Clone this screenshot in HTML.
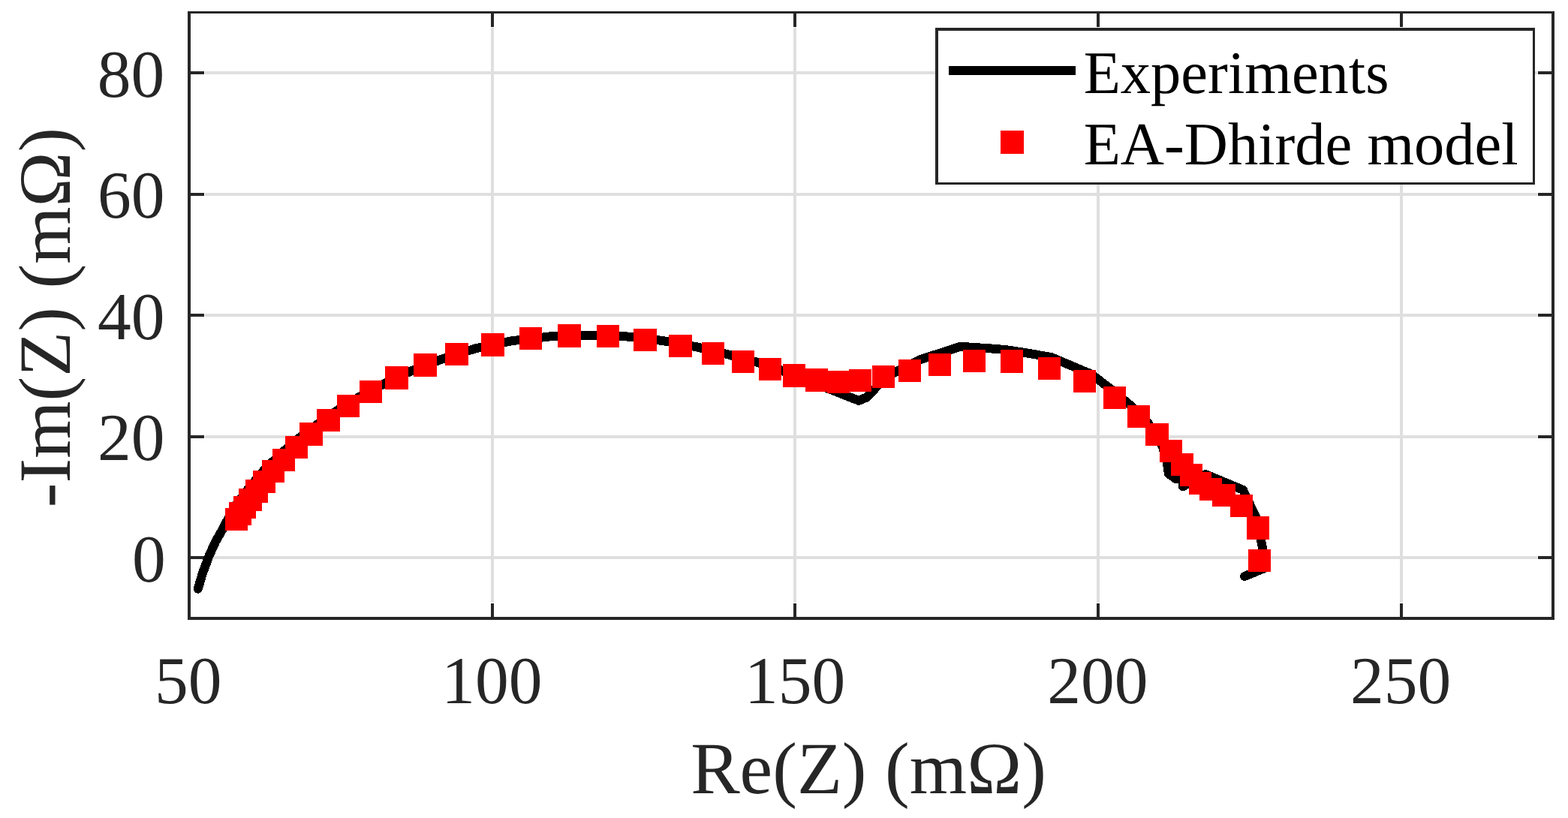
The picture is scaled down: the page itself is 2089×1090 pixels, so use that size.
<!DOCTYPE html>
<html lang="en"><head><meta charset="utf-8"><title>Nyquist plot: Experiments vs EA-Dhirde model</title>
<style>
html,body{margin:0;padding:0;background:#fff;}
body{width:2089px;height:1090px;}
svg{display:block;}
text{font-family:"Liberation Serif",serif;text-rendering:geometricPrecision;}
.tl{font-size:89.5px;fill:#262626;}
.al{font-size:98.2px;fill:#262626;}
.lg{font-size:80.5px;fill:#000;}
</style></head><body>
<svg width="2089" height="1090" viewBox="0 0 2089 1090">
<rect x="0" y="0" width="2089" height="1090" fill="#fff"/>
<g fill="#dfdfdf" shape-rendering="crispEdges">
<rect x="654" y="37" width="4" height="766"/>
<rect x="1057" y="37" width="4" height="766"/>
<rect x="1461" y="37" width="4" height="766"/>
<rect x="1865" y="37" width="4" height="766"/>
<rect x="273" y="741" width="1775" height="4"/>
<rect x="273" y="580" width="1775" height="4"/>
<rect x="273" y="418" width="1775" height="4"/>
<rect x="273" y="257" width="1775" height="4"/>
<rect x="273" y="95" width="1775" height="4"/>
</g>
<g fill="#262626" shape-rendering="crispEdges">
<rect x="250" y="15" width="1821" height="3"/>
<rect x="250" y="822" width="1821" height="4"/>
<rect x="250" y="15" width="4" height="811"/>
<rect x="2067" y="15" width="4" height="811"/>
<rect x="654" y="804" width="4" height="20"/>
<rect x="654" y="16" width="4" height="20"/>
<rect x="1057" y="804" width="4" height="20"/>
<rect x="1057" y="16" width="4" height="20"/>
<rect x="1461" y="804" width="4" height="20"/>
<rect x="1461" y="16" width="4" height="20"/>
<rect x="1865" y="804" width="4" height="20"/>
<rect x="1865" y="16" width="4" height="20"/>
<rect x="252" y="741" width="20" height="4"/>
<rect x="2049" y="741" width="20" height="4"/>
<rect x="252" y="580" width="20" height="4"/>
<rect x="2049" y="580" width="20" height="4"/>
<rect x="252" y="418" width="20" height="4"/>
<rect x="2049" y="418" width="20" height="4"/>
<rect x="252" y="257" width="20" height="4"/>
<rect x="2049" y="257" width="20" height="4"/>
<rect x="252" y="95" width="20" height="4"/>
<rect x="2049" y="95" width="20" height="4"/>
</g>
<polyline points="263.8,784.6 269.5,765.0 278.0,742.0 287.0,722.0 295.6,707.0 304.8,689.6 315.3,671.6 321.8,663.1 329.8,652.6 339.8,640.6 350.8,627.6 364.1,614.4 380.6,598.9 400.2,582.3 423.2,565.2 449.5,546.9 478.2,529.1 511.0,511.7 547.5,494.4 587.5,479.0 632.5,464.6 682.0,454.2 732.5,448.4 784.5,447.0 834.5,448.4 883.0,454.0 928.5,462.4 970.0,472.4 1008.0,482.4 1042.0,494.0 1098.0,515.7 1144.2,533.9 1154.3,529.5 1181.0,502.2 1225.0,479.5 1279.5,461.8 1320.0,464.4 1340.0,466.1 1367.0,470.2 1401.0,476.2 1453.7,498.5 1480.4,518.8 1504.2,538.6 1529.8,564.2 1548.7,594.5 1554.7,616.0 1556.8,631.0 1566.1,637.9 1576.0,638.5 1575.8,648.3 1606.0,632.0 1656.0,652.8 1673.8,690.4 1682.5,732.0 1686.0,756.5 1658.0,768.0" fill="none" stroke="#000" stroke-width="12" stroke-linejoin="round" stroke-linecap="round" shape-rendering="crispEdges"/>
<g fill="#ff0000" shape-rendering="crispEdges">
<rect x="300" y="677" width="30" height="30"/>
<rect x="305" y="669" width="30" height="31"/>
<rect x="311" y="661" width="30" height="30"/>
<rect x="318" y="651" width="31" height="30"/>
<rect x="327" y="639" width="30" height="31"/>
<rect x="337" y="627" width="30" height="30"/>
<rect x="349" y="613" width="30" height="30"/>
<rect x="363" y="598" width="30" height="30"/>
<rect x="380" y="581" width="30" height="30"/>
<rect x="399" y="563" width="31" height="31"/>
<rect x="422" y="545" width="31" height="30"/>
<rect x="449" y="526" width="30" height="30"/>
<rect x="479" y="507" width="30" height="30"/>
<rect x="513" y="488" width="31" height="31"/>
<rect x="551" y="471" width="31" height="31"/>
<rect x="593" y="457" width="31" height="30"/>
<rect x="641" y="444" width="31" height="31"/>
<rect x="692" y="436" width="30" height="30"/>
<rect x="743" y="432" width="31" height="31"/>
<rect x="795" y="433" width="30" height="30"/>
<rect x="844" y="438" width="31" height="30"/>
<rect x="891" y="446" width="31" height="30"/>
<rect x="935" y="456" width="30" height="30"/>
<rect x="975" y="467" width="30" height="30"/>
<rect x="1011" y="477" width="30" height="30"/>
<rect x="1043" y="485" width="30" height="31"/>
<rect x="1073" y="491" width="30" height="31"/>
<rect x="1102" y="494" width="30" height="30"/>
<rect x="1131" y="492" width="30" height="30"/>
<rect x="1162" y="487" width="30" height="30"/>
<rect x="1197" y="479" width="30" height="30"/>
<rect x="1237" y="471" width="30" height="30"/>
<rect x="1283" y="466" width="30" height="30"/>
<rect x="1333" y="466" width="30" height="31"/>
<rect x="1383" y="476" width="30" height="30"/>
<rect x="1430" y="493" width="30" height="30"/>
<rect x="1470" y="515" width="30" height="30"/>
<rect x="1502" y="540" width="30" height="30"/>
<rect x="1526" y="564" width="31" height="30"/>
<rect x="1545" y="586" width="30" height="30"/>
<rect x="1560" y="604" width="30" height="30"/>
<rect x="1572" y="618" width="30" height="30"/>
<rect x="1584" y="629" width="30" height="30"/>
<rect x="1598" y="637" width="30" height="30"/>
<rect x="1615" y="645" width="31" height="30"/>
<rect x="1639" y="659" width="30" height="30"/>
<rect x="1661" y="688" width="30" height="31"/>
<rect x="1663" y="732" width="30" height="30"/>
</g>
<g shape-rendering="crispEdges">
<rect x="1246" y="37" width="799" height="209" fill="#262626"/>
<rect x="1250" y="41" width="792" height="202" fill="#fff"/>
<rect x="1264" y="88" width="169" height="12" fill="#000"/>
<rect x="1333" y="174" width="31" height="31" fill="#ff0000"/>
</g>
<text class="lg" x="1443.7" y="124">Experiments</text>
<text class="lg" x="1443.7" y="219">EA-Dhirde model</text>
<text class="tl" text-anchor="middle" x="250.8" y="937">50</text>
<text class="tl" text-anchor="middle" x="655.3" y="937">100</text>
<text class="tl" text-anchor="middle" x="1059.2" y="937">150</text>
<text class="tl" text-anchor="middle" x="1462.3" y="937">200</text>
<text class="tl" text-anchor="middle" x="1866.1" y="937">250</text>
<text class="tl" text-anchor="end" x="220.7" y="775">0</text>
<text class="tl" text-anchor="end" x="219.5" y="613">20</text>
<text class="tl" text-anchor="end" x="219.5" y="452">40</text>
<text class="tl" text-anchor="end" x="219.5" y="290">60</text>
<text class="tl" text-anchor="end" x="219.2" y="129">80</text>
<text class="al" text-anchor="middle" x="1157" y="1057">Re(Z) (mΩ)</text>
<text class="al" text-anchor="middle" transform="translate(93 423) rotate(-90)">-Im(Z) (mΩ)</text>
</svg>
</body></html>
